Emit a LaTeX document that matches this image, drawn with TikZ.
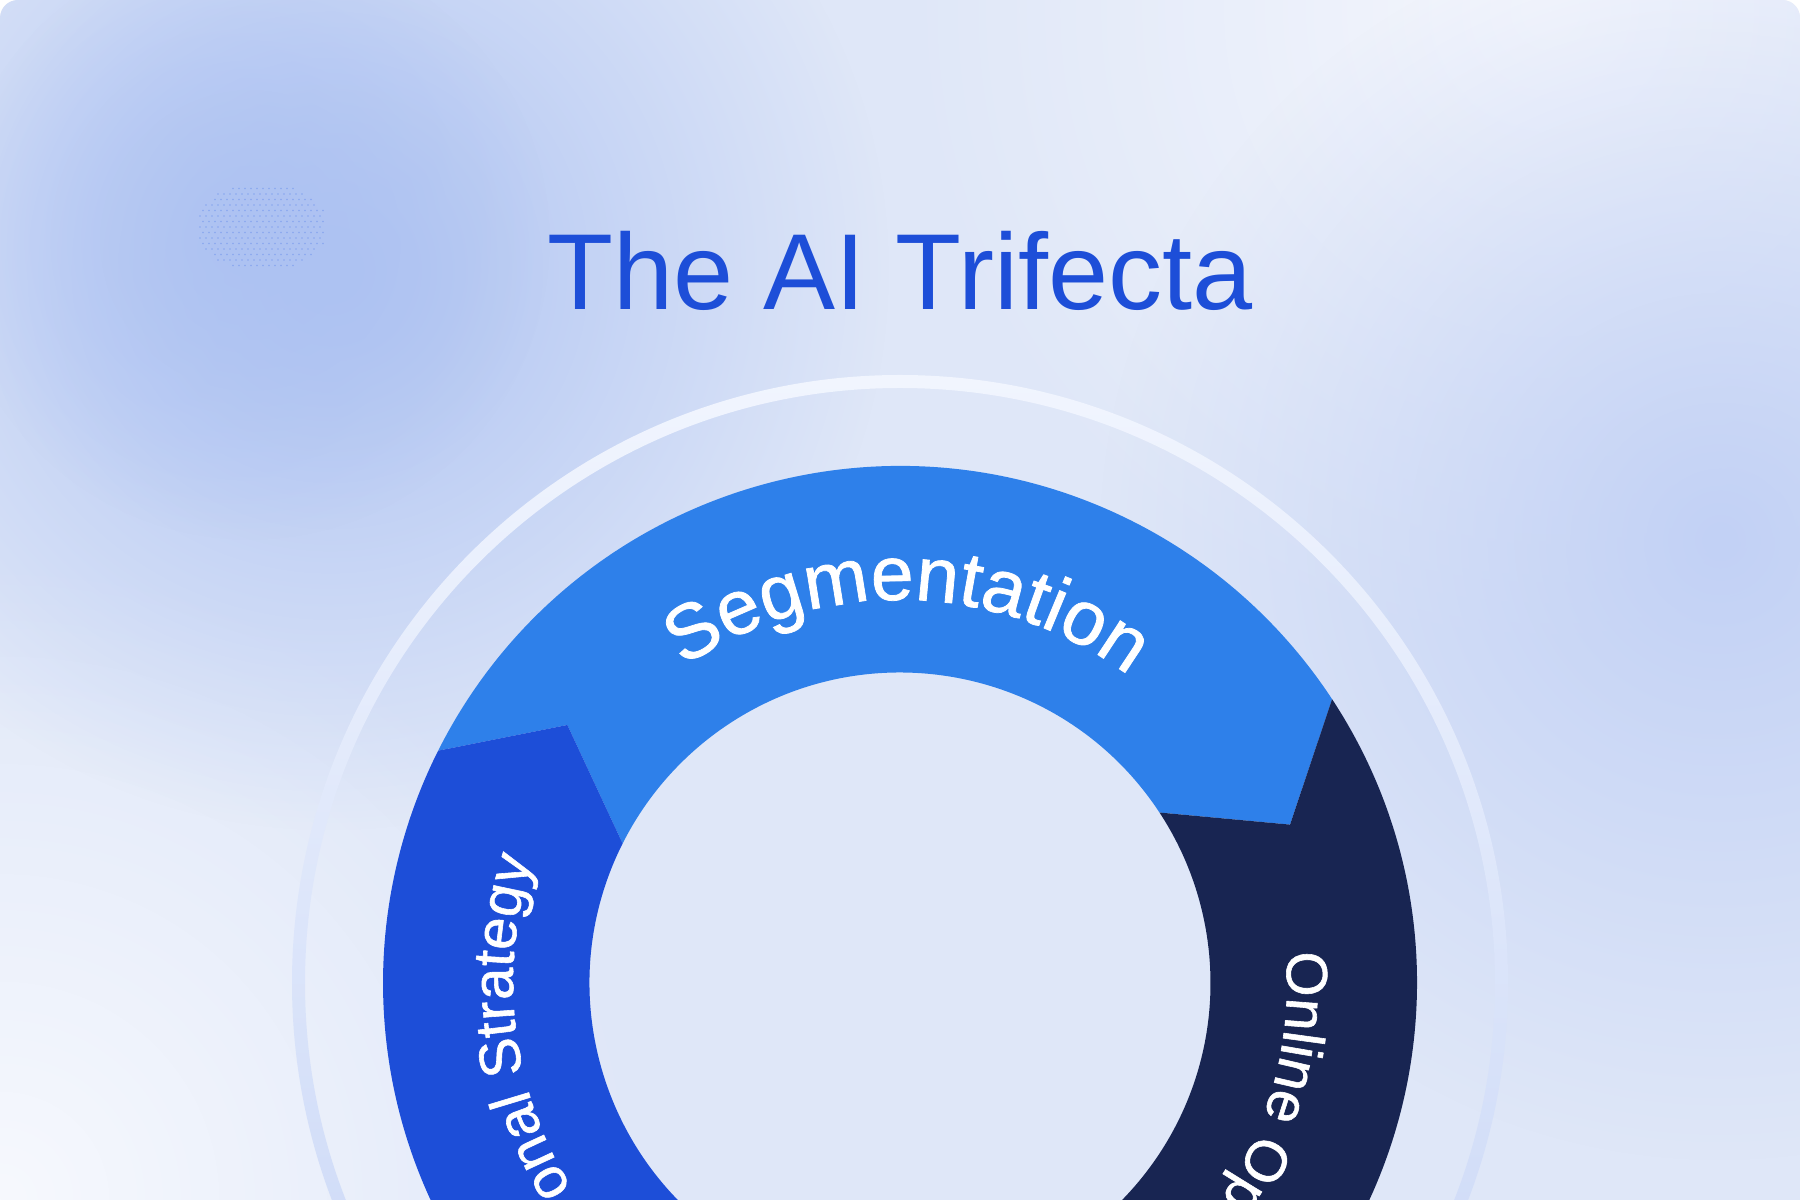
\documentclass[tikz,border=0pt]{standalone}
\usepackage{fontspec}
\setmainfont{Liberation Sans}
\newfontfamily\lblfont[FakeBold=1.0]{Liberation Sans}
\usetikzlibrary{fadings,decorations.text}

\definecolor{titleblue}{HTML}{1D4ED8}
\definecolor{segblue}{HTML}{2E80EA}
\definecolor{stratblue}{HTML}{1D4ED8}
\definecolor{navyseg}{HTML}{182552}
\definecolor{bgbase}{HTML}{DFE7F8}
\definecolor{blobtl}{HTML}{ADC2F2}
\definecolor{blobr}{HTML}{C2D1F5}
\definecolor{blobtr}{HTML}{F5F7FD}
\definecolor{blobbl}{HTML}{F7F9FE}
\definecolor{dotblue}{HTML}{7D9EEE}
\definecolor{ringtop}{HTML}{F1F5FE}
\definecolor{ringmid}{HTML}{E6ECFA}
\definecolor{ringbot}{HTML}{C3D2F5}

\tikzfading[name=blobfade, inner color=transparent!0, outer color=transparent!100]

\tikzset{
  blob/.style={fill=#1, path fading=blobfade},
  lbl/.style={decorate, decoration={text along path, #1}},
}

\begin{document}
\begin{tikzpicture}[x=1pt,y=1pt]
\useasboundingbox (0,0) rectangle (1800,1200);
\fill[white] (0,0) rectangle (1800,1200);

% background
\begin{scope}
  \clip[rounded corners=18pt] (0,-60) rectangle (1800,1200);
  \fill[bgbase] (0,-60) rectangle (1800,1200);
  \fill[blob=blobbl] (0,0) circle (650);
  \fill[blob=blobtr] (1550,1190) circle (650);
  \fill[blob=blobr] (1720,660) circle (620);
  \fill[blob=blobtl] (330,930) circle (560);
  \fill[blob=blobtl] (250,960) circle (300);
  % halftone dot patch
  \foreach \i in {-11,...,11}{
    \foreach \j in {-8,...,8}{
      \pgfmathsetmacro{\dd}{(\i/11)^2+(\j/8)^2}
      \ifdim\dd pt<1pt
        \fill[dotblue, opacity=0.75] ({260+6*\i+3*mod(abs(\j),2)},{973+5.5*\j}) circle (0.9);
      \fi
    }
  }
\end{scope}

\node[font=\fontsize{108}{110}\selectfont, text=titleblue, anchor=base, inner sep=0pt] (title) at (900,890) {The AI Trifecta};

\begin{scope}
\clip (0,0) rectangle (1800,1200);
\coordinate (C) at (900,217);
% outer thin ring
\shade[even odd rule, top color=ringtop, middle color=ringmid, bottom color=ringbot] (C) circle (608) (C) circle (595);

\begin{scope}[shift={(900,217)}]
  % Segmentation
  \fill[segblue] (153.3:517) arc[start angle=153.3, end angle=33.3, radius=517]
     -- (22.1:421) -- (33.3:310.5) arc[start angle=33.3, end angle=153.3, radius=310.5]
     -- (142.2:421) -- cycle;
  % Online
  \fill[navyseg] (33.3:517) arc[start angle=33.3, end angle=-86.7, radius=517]
     -- (-97.8:421) -- (-86.7:310.5) arc[start angle=-86.7, end angle=33.3, radius=310.5]
     -- (22.1:421) -- cycle;
  % Strategy
  \fill[stratblue] (273.3:517) arc[start angle=273.3, end angle=153.3, radius=517]
     -- (142.2:421) -- (153.3:310.5) arc[start angle=153.3, end angle=273.3, radius=310.5]
     -- (262.2:421) -- cycle;

  \path[lbl={text align=center, text={|\lblfont\fontsize{77}{80}\selectfont\color{white}|Segmentation}}]
     (160:383) arc[start angle=160, end angle=17.7, radius=383];
  \path[lbl={text align=left, text={|\lblfont\fontsize{58}{60}\selectfont\color{white}|Online Op}}]
     (4.6:387) arc[start angle=4.6, end angle=-120, radius=387];
  \path[lbl={text align=right, text={|\lblfont\fontsize{58}{60}\selectfont\color{white}|onal Strategy}}]
     (290:387) arc[start angle=290, end angle=161.5, radius=387];
\end{scope}
\end{scope}
\end{tikzpicture}
\end{document}
